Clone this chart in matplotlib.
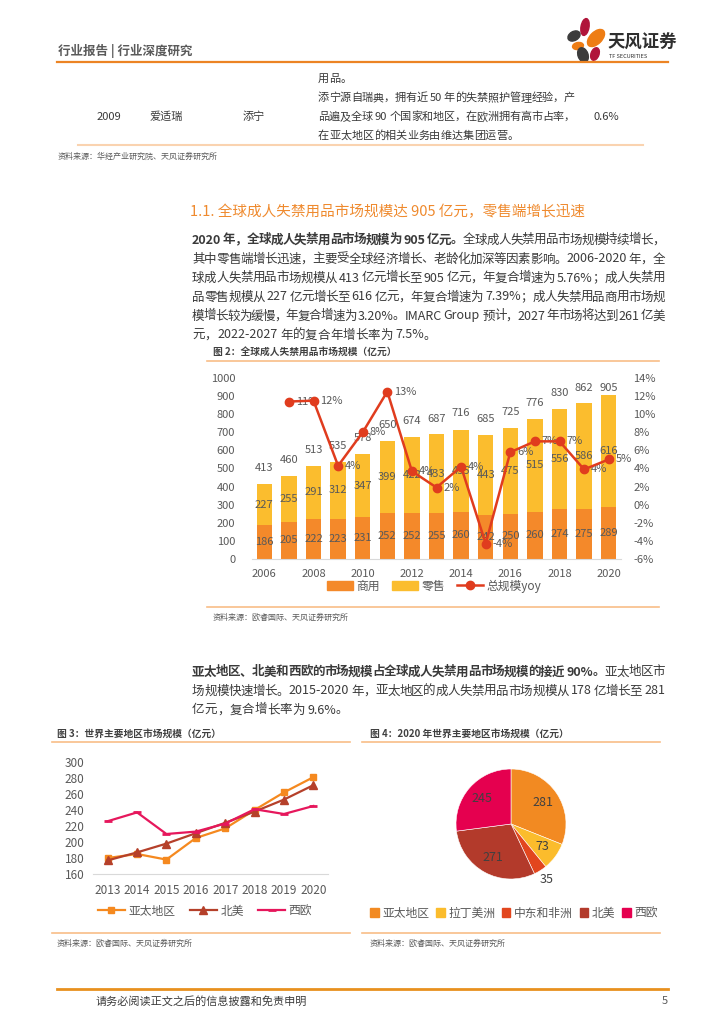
import matplotlib
matplotlib.use('Agg')
import matplotlib.pyplot as plt
import numpy as np
from matplotlib.patches import Patch, Ellipse
from matplotlib.lines import Line2D

plt.rcParams['font.family'] = ['Noto Sans CJK SC', 'DejaVu Sans']

W, H = 724, 1024

# ---- data: chart 2 (global market) ----
years = list(range(2006, 2021))
commercial = [186, 205, 222, 223, 231, 252, 252, 255, 260, 242, 250, 260, 274, 275, 289]
retail = [227, 255, 291, 312, 347, 399, 422, 433, 455, 443, 475, 515, 556, 586, 616]
total = [413, 460, 513, 535, 578, 650, 674, 687, 716, 685, 725, 776, 830, 862, 905]
yoy_years = list(range(2007, 2021))
yoy = [11.4, 11.5, 4.3, 8.0, 12.5, 3.7, 1.9, 4.2, -4.3, 5.8, 7.0, 7.0, 3.9, 5.0]
yoy_labels = ['11%', '12%', '4%', '8%', '13%', '4%', '2%', '4%', '-4%', '6%', '7%', '7%', '4%', '5%']

# ---- data: chart 3 (regions) ----
reg_years = list(range(2013, 2021))
apac = [180, 185, 178, 205, 217, 240, 262, 281]
namerica = [177, 187, 198, 211, 224, 238, 253, 271]
weurope = [226, 237, 210, 213, 223, 241, 235, 245]

# ---- data: chart 4 (2020 pie) ----
pie_names = ['亚太地区', '拉丁美洲', '中东和非洲', '北美', '西欧']
pie_values = [281, 73, 35, 271, 245]
pie_colors = ['#F28A22', '#FBBC2C', '#E2461E', '#B33A2B', '#E5004F']

ORANGE = '#F4892A'
YELLOW = '#FBBD2E'
RED = '#E03C1E'
TXT = '#3A3A3A'
GRAY = '#595959'
LINE_LIGHT = '#F8BE87'


def fx(x):
    return x / W


def fy(y):
    return 1 - y / H


fig = plt.figure(figsize=(W / 100, H / 100), dpi=100)
rend = fig.canvas.get_renderer()

_adv = {}


def advance(tok, size, weight):
    key = (tok, size, weight)
    if key not in _adv:
        a = fig.text(0, 0, '中' + tok + '中', fontsize=size, fontweight=weight)
        b = fig.text(0, 0, '中中', fontsize=size, fontweight=weight)
        _adv[key] = a.get_window_extent(rend).width - b.get_window_extent(rend).width
        a.remove()
        b.remove()
    return _adv[key]


def text_line(x, y, runs, size=9, color=TXT, width=None):
    # runs: list of (string, weight); width -> justify to that many pixels
    toks = []
    for s, wgt in runs:
        buf = ''
        for ch in s:
            if ord(ch) < 128 and ch != ' ':
                buf += ch
            else:
                if buf:
                    toks.append((buf, wgt))
                    buf = ''
                toks.append((ch, wgt))
        if buf:
            toks.append((buf, wgt))
    advs = [advance(t, size, w) for t, w in toks]
    gap = 0
    if width is not None and len(toks) > 1:
        gap = (width - sum(advs)) / (len(toks) - 1)
    cx = x
    for (t, wgt), a in zip(toks, advs):
        if t != ' ':
            fig.text(fx(cx), fy(y), t, fontsize=size, fontweight=wgt, color=color,
                     ha='left', va='center')
        cx += a + gap


def hline(y, x0, x1, color, lw):
    fig.add_artist(Line2D([fx(x0), fx(x1)], [fy(y), fy(y)], color=color, lw=lw))


# ---- page header ----
fig.text(fx(58), fy(51), '行业报告 | 行业深度研究', fontsize=9, fontweight='bold', color='#5A5A5A', va='center')
hline(62, 57, 668, '#EC8424', 1.6)
logo = fig.add_axes([fx(563), fy(66), 47 / W, 52 / H])
logo.set_xlim(563, 610)
logo.set_ylim(66, 14)
logo.axis('off')
for (cx, cy, w, h, ang, c) in [(585, 27, 8, 17, 10, '#B0153A'), (574, 36, 13, 9, -30, '#3C3C3C'),
                               (596, 38, 12, 21, 45, '#EE7D14'), (578, 46, 11, 7, -10, '#EE7D14'),
                               (583, 55, 10, 15, -20, '#3C3C3C'), (595, 54, 8, 13, 20, '#B0153A')]:
    logo.add_patch(Ellipse((cx, cy), w, h, angle=ang, color=c))
fig.text(fx(607), fy(43), '天风证券', fontsize=12.5, fontweight='bold', color='#2E2E2E', va='center')
fig.text(fx(609), fy(56), 'TF SECURITIES', fontsize=4, color='#2E2E2E', va='center')

# ---- table tail ----
text_line(318, 79, [('用品。', 'normal')], size=8)
text_line(318, 98, [('添宁源自瑞典，拥有近 50 年的失禁照护管理经验，产', 'normal')], size=8, width=257)
text_line(318, 117, [('品遍及全球 90 个国家和地区，在欧洲拥有高市占率，', 'normal')], size=8, width=257)
text_line(318, 136, [('在亚太地区的相关业务由维达集团运营。', 'normal')], size=8)
fig.text(fx(97), fy(117), '2009', fontsize=8, color=TXT, va='center')
fig.text(fx(150), fy(117), '爱适瑞', fontsize=8, color=TXT, va='center')
fig.text(fx(243), fy(117), '添宁', fontsize=8, color=TXT, va='center')
fig.text(fx(593), fy(117), '0.6%', fontsize=8, color=TXT, va='center')
hline(145, 78, 643, '#FAD3B0', 1.5)
fig.text(fx(58), fy(156), '资料来源：华经产业研究院、天风证券研究所', fontsize=5.8, color=GRAY, va='center')

# ---- section title and paragraph ----
fig.text(fx(190), fy(212), '1.1. 全球成人失禁用品市场规模达 905 亿元，零售端增长迅速', fontsize=10.5,
         color='#EF8A2E', va='center')
para1 = [
    [('2020 年，全球成人失禁用品市场规模为 905 亿元。', 'bold'), ('全球成人失禁用品市场规模持续增长，', 'normal')],
    [('其中零售端增长迅速，主要受全球经济增长、老龄化加深等因素影响。2006-2020 年，全', 'normal')],
    [('球成人失禁用品市场规模从 413 亿元增长至 905 亿元，年复合增速为 5.76%；成人失禁用', 'normal')],
    [('品零售规模从 227 亿元增长至 616 亿元，年复合增速为 7.39%；成人失禁用品商用市场规', 'normal')],
    [('模增长较为缓慢，年复合增速为 3.20%。IMARC Group  预计，2027 年市场将达到 261 亿美', 'normal')],
    [('元，2022-2027 年的复合年增长率为 7.5%。', 'normal')],
]
for i, runs in enumerate(para1):
    text_line(192, 240 + i * 19, runs, size=9, width=473 if i < 5 else None)

# ---- chart 2 ----
fig.text(fx(213), fy(352), '图 2：全球成人失禁用品市场规模（亿元）', fontsize=7, fontweight='bold', color='#404040', va='center')
hline(361, 207, 659, LINE_LIGHT, 1.2)
ax = fig.add_axes([fx(252), fy(559), (621 - 252) / W, (559 - 378) / H])
ax.bar(years, commercial, width=0.62, color=ORANGE, zorder=2)
ax.bar(years, retail, width=0.62, bottom=commercial, color=YELLOW, zorder=2)
for xv, c, r, t in zip(years, commercial, retail, total):
    ax.text(xv, c / 2, str(c), ha='center', va='center', fontsize=8, color=GRAY, zorder=5)
    ax.text(xv, c + r / 2, str(r), ha='center', va='center', fontsize=8, color=GRAY, zorder=5)
    ax.text(xv, min(t + 88, 945), str(t), ha='center', va='center', fontsize=8, color=GRAY, zorder=5)
ax.set_xlim(2005.5, 2020.5)
ax.set_ylim(0, 1000)
ax.set_yticks(range(0, 1001, 100))
ax.set_xticks(range(2006, 2021, 2))
for s in ['top', 'right', 'left']:
    ax.spines[s].set_visible(False)
ax.spines['bottom'].set_color('#D9D9D9')
ax.tick_params(length=0, labelsize=8, labelcolor=GRAY)
ax.tick_params(axis='y', pad=12)
ax.tick_params(axis='x', pad=7)
ax2 = ax.twinx()
ax2.plot(yoy_years, yoy, color=RED, lw=1.8, marker='o', ms=6, zorder=4)
for xv, v, lab in zip(yoy_years, yoy, yoy_labels):
    ax2.annotate(lab, (xv, v), xytext=(5, 0), textcoords='offset points', ha='left', va='center',
                 fontsize=8, color=GRAY)
ax2.set_ylim(-6, 14)
ax2.set_yticks(range(-6, 15, 2))
ax2.set_yticklabels([f'{v}%' for v in range(-6, 15, 2)])
for s in ax2.spines.values():
    s.set_visible(False)
ax2.tick_params(length=0, labelsize=8, labelcolor=GRAY, pad=9)
handles = [Patch(color=ORANGE), Patch(color=YELLOW),
           Line2D([], [], color=RED, lw=1.8, marker='o', ms=6)]
fig.legend(handles, ['商用', '零售', '总规模yoy'], loc='center', bbox_to_anchor=(fx(434), fy(586)),
           ncol=3, frameon=False, fontsize=8.5, handlelength=2.2, handletextpad=0.3,
           columnspacing=1.0, labelcolor=GRAY)
hline(607, 207, 659, LINE_LIGHT, 1.2)
fig.text(fx(213), fy(617), '资料来源：欧睿国际、天风证券研究所', fontsize=5.8, color=GRAY, va='center')

# ---- paragraph 2 ----
para2 = [
    [('亚太地区、北美和西欧的市场规模占全球成人失禁用品市场规模的接近 90%。', 'bold'), ('亚太地区市', 'normal')],
    [('场规模快速增长。2015-2020 年，亚太地区的成人失禁用品市场规模从 178 亿增长至 281', 'normal')],
    [('亿元，复合增长率为 9.6%。', 'normal')],
]
for i, runs in enumerate(para2):
    text_line(192, 672 + i * 19, runs, size=9, width=473 if i < 2 else None)

# ---- chart 3 ----
fig.text(fx(57), fy(734), '图 3：世界主要地区市场规模（亿元）', fontsize=7, fontweight='bold', color='#404040', va='center')
hline(742, 52, 350, LINE_LIGHT, 1.2)
ax3 = fig.add_axes([fx(93), fy(874), (328 - 93) / W, (874 - 762) / H])
ax3.plot(reg_years, apac, color='#F5891F', lw=1.6, marker='s', ms=5, label='亚太地区')
ax3.plot(reg_years, namerica, color='#B5402A', lw=1.6, marker='^', ms=5.5, label='北美')
ax3.plot(reg_years, weurope, color='#E6175C', lw=1.6, marker='_', ms=6, mew=2, label='西欧')
ax3.set_xlim(2012.5, 2020.5)
ax3.set_ylim(160, 300)
ax3.set_yticks(range(160, 301, 20))
ax3.set_xticks(reg_years)
for s in ['top', 'right', 'left']:
    ax3.spines[s].set_visible(False)
ax3.spines['bottom'].set_color('#D9D9D9')
ax3.tick_params(length=0, labelsize=8.5, labelcolor=GRAY)
ax3.tick_params(axis='y', pad=6)
ax3.tick_params(axis='x', pad=7)
ax3.legend(loc='center', bbox_to_anchor=(fx(205), fy(911)), bbox_transform=fig.transFigure, ncol=3,
           frameon=False, fontsize=8.5, handlelength=2.3, handletextpad=0.3, columnspacing=1.2,
           labelcolor=GRAY)
hline(933, 52, 350, LINE_LIGHT, 1.2)
fig.text(fx(57), fy(943), '资料来源：欧睿国际、天风证券研究所', fontsize=5.8, color=GRAY, va='center')

# ---- chart 4 ----
fig.text(fx(370), fy(734), '图 4：2020 年世界主要地区市场规模（亿元）', fontsize=7, fontweight='bold', color='#404040', va='center')
hline(742, 362, 660, LINE_LIGHT, 1.2)
ax4 = fig.add_axes([fx(456), fy(879), 110 / W, 110 / H])
pie_total = sum(pie_values)
wedges, _, autotexts = ax4.pie(pie_values, colors=pie_colors, startangle=90, counterclock=False,
                               autopct=lambda p: f'{p * pie_total / 100:.0f}', pctdistance=0.7,
                               wedgeprops=dict(edgecolor='white', linewidth=0.4),
                               textprops=dict(fontsize=9, color='#404040'))
for wdg, t, v in zip(wedges, autotexts, pie_values):
    if v < 50:
        ang = np.deg2rad((wdg.theta1 + wdg.theta2) / 2)
        t.set_position((1.2 * np.cos(ang), 1.2 * np.sin(ang)))
ax4.set_xlim(-1, 1)
ax4.set_ylim(-1, 1)
fig.legend([Patch(color=c) for c in pie_colors], pie_names, loc='center', bbox_to_anchor=(fx(514), fy(913)),
           ncol=5, frameon=False, fontsize=8.5, handlelength=0.7, handleheight=0.7, handletextpad=0.3,
           columnspacing=0.6, labelcolor=GRAY)
hline(933, 362, 660, LINE_LIGHT, 1.2)
fig.text(fx(370), fy(943), '资料来源：欧睿国际、天风证券研究所', fontsize=5.8, color=GRAY, va='center')

# ---- footer ----
hline(989, 57, 668, '#E8901E', 2.0)
fig.text(fx(96), fy(1001), '请务必阅读正文之后的信息披露和免责申明', fontsize=8, color=TXT, va='center')
fig.text(fx(668), fy(1001), '5', fontsize=8, color=GRAY, ha='right', va='center')

fig.savefig('out.png', dpi=100)
